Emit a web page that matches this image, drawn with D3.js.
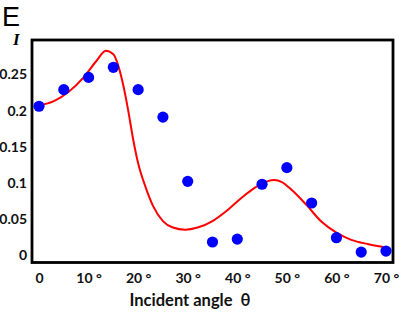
<!DOCTYPE html>
<html>
<head>
<meta charset="utf-8">
<script src="https://cdn.jsdelivr.net/npm/d3@7"></script>
<style>
  body { margin: 0; background: #fff; }
  svg { display: block; }
</style>
</head>
<body>
<svg id="chart" width="399" height="317"></svg>
<script>
// Measured points (blue dots)
const angles = [0, 5, 10, 15, 20, 25, 30, 35, 40, 45, 50, 55, 60, 65, 70]
const intensity = [0.206, 0.229, 0.246, 0.260, 0.229, 0.191, 0.102, 0.018, 0.022, 0.098, 0.121, 0.072, 0.024, 0.004, 0.0055]

// Fitted curve (red line)
const fitAngles = [0, 3, 6, 9, 11.5, 13.5, 15, 16, 17, 18, 19, 20, 21.5, 23, 25, 27, 29.5, 32, 35, 38, 41, 43.5, 46, 47.5, 49, 51, 54, 57, 60, 63, 66.5, 70]
const fitValues = [0.207, 0.213, 0.226, 0.246, 0.268, 0.283, 0.278, 0.262, 0.235, 0.200, 0.160, 0.127, 0.094, 0.068, 0.047, 0.038, 0.035, 0.038, 0.047, 0.062, 0.080, 0.093, 0.102, 0.104, 0.101, 0.090, 0.069, 0.046, 0.031, 0.021, 0.015, 0.0105]

// Tick labels
const xTicks = [0, 10, 20, 30, 40, 50, 60, 70]
const yTicks = [0, 0.05, 0.1, 0.15, 0.2, 0.25]

const labelFont = "Lato, 'Open Sans', sans-serif"
const svg = d3.select("#chart")

const x = d3.scaleLinear().domain([0, 70]).range([39, 386])
const y = d3.scaleLinear().domain([0, 0.25]).range([255, 74.5])

// Frame
svg.append("rect")
    .attr("x", 32)
    .attr("y", 40)
    .attr("width", 361)
    .attr("height", 222.5)
    .attr("fill", "none")
    .attr("stroke", "#000")
    .attr("stroke-width", 2.8)

// x tick labels
const xAxis = d3.axisBottom(x)
    .tickValues(xTicks)
    .tickSize(0)
    .tickFormat(d => d === 0 ? "0" : d + " \u00b0")
svg.append("g")
    .attr("transform", "translate(0,270)")
    .call(xAxis)
    .call(g => g.select(".domain").remove())
    .selectAll("text")
    .attr("font-family", labelFont)
    .attr("font-size", 14)
    .attr("font-weight", "bold")
    .attr("fill", "#111")

// y tick labels
const yAxis = d3.axisLeft(y)
    .tickValues(yTicks)
    .tickSize(0)
    .tickFormat(d => String(d))
svg.append("g")
    .attr("transform", "translate(27,0)")
    .call(yAxis)
    .call(g => g.select(".domain").remove())
    .selectAll("text")
    .attr("x", 0)
    .attr("font-family", labelFont)
    .attr("font-size", 14)
    .attr("font-weight", "bold")
    .attr("fill", "#111")

// fitted curve
const line = d3.line()
    .x((d, i) => x(fitAngles[i]))
    .y(d => y(d))
    .curve(d3.curveMonotoneX)

svg.append("path")
    .datum(fitValues)
    .attr("d", line)
    .attr("fill", "none")
    .attr("stroke", "#ff0000")
    .attr("stroke-width", 2)

// data points
svg.selectAll("circle.pt")
    .data(intensity)
    .join("circle")
    .attr("class", "pt")
    .attr("cx", (d, i) => x(angles[i]))
    .attr("cy", d => y(d))
    .attr("r", 5.6)
    .attr("fill", "#0000ff")

// axis title
svg.append("text")
    .attr("x", 190)
    .attr("y", 306)
    .attr("text-anchor", "middle")
    .attr("font-family", labelFont)
    .attr("font-size", 16.5)
    .attr("font-weight", "bold")
    .attr("fill", "#111")
    .style("white-space", "pre")
    .text("Incident angle  \u03b8")

// panel letter
svg.append("text")
    .attr("x", 2)
    .attr("y", 26)
    .attr("font-family", "'Liberation Sans', Arial, sans-serif")
    .attr("font-size", 27)
    .attr("fill", "#000")
    .text("E")

// y label
svg.append("text")
    .attr("x", 13)
    .attr("y", 45)
    .attr("font-family", "'Liberation Serif', 'DejaVu Serif', serif")
    .attr("font-size", 17)
    .attr("font-style", "italic")
    .attr("font-weight", "bold")
    .attr("fill", "#000")
    .text("I")
</script>
</body>
</html>
